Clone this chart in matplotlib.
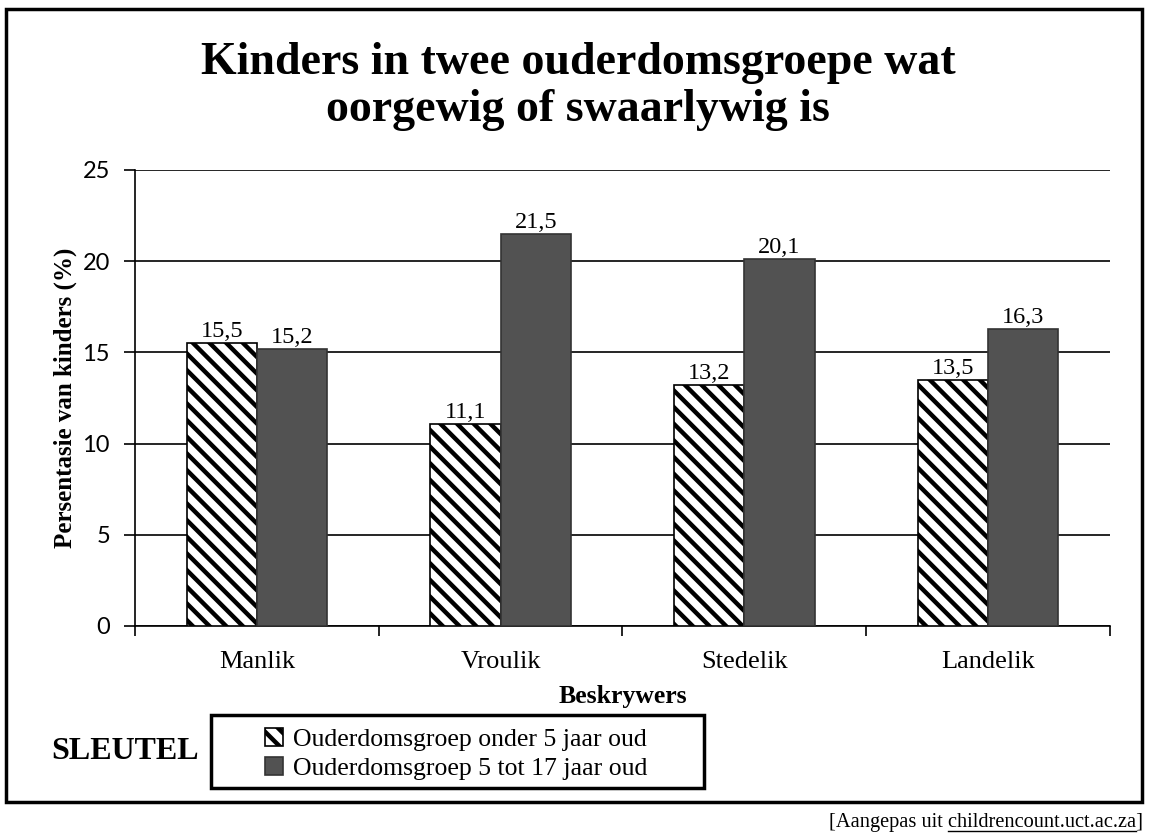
"""
Kinders in twee ouderdomsgroepe wat oorgewig of swaarlywig is.
"""

import matplotlib
matplotlib.use('Agg')
import matplotlib.pyplot as plt
import matplotlib.patches as mpatches
import numpy as np


categories = ['Manlik', 'Vroulik', 'Stedelik', 'Landelik']
onder_5 = [15.5, 11.1, 13.2, 13.5]
tot_17 = [15.2, 21.5, 20.1, 16.3]
series_names = ['Ouderdomsgroep onder 5 jaar oud',
                'Ouderdomsgroep 5 tot 17 jaar oud']
yticks = [0, 5, 10, 15, 20, 25]

serif = 'Liberation Serif'
sans = 'Lato'
plt.rcParams['hatch.linewidth'] = 3.2


def label(v):
    return ('%.1f' % v).replace('.', ',')


fig = plt.figure(figsize=(11.49, 8.36), dpi=100)
ax = fig.add_axes([0.1175, 0.2512, 0.8485, 0.5455])

x = np.arange(len(categories))
w = 0.288
b1 = ax.bar(x - w / 2, onder_5, w, color='white', edgecolor='black',
            hatch='\\\\', linewidth=1.2, label=series_names[0], zorder=3)
b2 = ax.bar(x + w / 2, tot_17, w, color='#525252', edgecolor='#333333',
            linewidth=1.2, label=series_names[1], zorder=3)

for bars, vals in ((b1, onder_5), (b2, tot_17)):
    for r, v in zip(bars, vals):
        ax.text(r.get_x() + r.get_width() / 2, v + 0.05, label(v),
                ha='center', va='bottom', family=serif, fontsize=17.5, zorder=4)

ax.set_xlim(-0.5, len(categories) - 0.5)
ax.set_ylim(0, 25)
ax.set_yticks(yticks)
ax.set_yticklabels([str(t) for t in yticks], family=sans, fontsize=17)
ax.set_xticks(x)
ax.set_xticklabels(categories, family=serif, fontsize=19)
ax.tick_params(axis='x', which='major', length=0, pad=18)
ax.set_xticks(np.arange(-0.5, len(categories), 1.0), minor=True)
ax.tick_params(axis='x', which='minor', length=7, width=1.2, direction='out')
ax.tick_params(axis='y', length=8, width=1.2, direction='out', pad=10)

ax.grid(axis='y', color='black', linewidth=1.2, zorder=0)
ax.set_axisbelow(True)
for s in ('top', 'right'):
    ax.spines[s].set_visible(False)
ax.spines['left'].set_linewidth(1.2)
ax.spines['bottom'].set_linewidth(1.2)

ax.set_ylabel('Persentasie van kinders (%)', family=serif, fontsize=18,
              fontweight='bold', labelpad=4)
ax.set_xlabel('Beskrywers', family=serif, fontsize=18.5, fontweight='bold',
              labelpad=9)

fig.text(0.503, 0.897, 'Kinders in twee ouderdomsgroepe wat\noorgewig of swaarlywig is',
         ha='center', va='center', family=serif, fontsize=33, fontweight='bold',
         linespacing=1.15)

# legend ("sleutel") with its own box
leg = fig.legend(handles=[b1, b2], loc='center', bbox_to_anchor=(0.397, 0.098),
                 prop={'family': serif, 'size': 18.5}, frameon=False,
                 handlelength=0.7, handleheight=0.7, handletextpad=0.4,
                 labelspacing=0.25, borderpad=0.2)
fig.patches.append(mpatches.Rectangle((211 / 1149, 1 - 788 / 836), 493 / 1149,
                                      73 / 836, fill=False, edgecolor='black',
                                      linewidth=2.5, transform=fig.transFigure))

fig.text(0.109, 0.1005, 'SLEUTEL', ha='center', va='center', family=serif,
         fontsize=23, fontweight='bold')

# outer frame
fig.patches.append(mpatches.Rectangle((0.005, 0.041), 0.989, 0.948, fill=False,
                                      edgecolor='black', linewidth=2.5,
                                      transform=fig.transFigure))

src_txt = '[Aangepas uit childrencount.uct.ac.za]'
src = fig.text(0.995, 0.0167, src_txt, ha='right', va='center', family=serif,
               fontsize=14.7)
# underline the web address only
r = fig.canvas.get_renderer()
tmp1 = fig.text(0, 0, 'childrencount.uct.ac.za]', family=serif, fontsize=14.7)
tmp2 = fig.text(0, 0, ']', family=serif, fontsize=14.7)
w1 = tmp1.get_window_extent(r).width
w2 = tmp2.get_window_extent(r).width
tmp1.remove()
tmp2.remove()
right = src.get_window_extent(r).x1
y_ul = 5
fig.add_artist(plt.Line2D([(right - w1) / 1149, (right - w2) / 1149],
                          [y_ul / 836, y_ul / 836], color='black', linewidth=1,
                          transform=fig.transFigure))

fig.savefig('out.png', dpi=100)
